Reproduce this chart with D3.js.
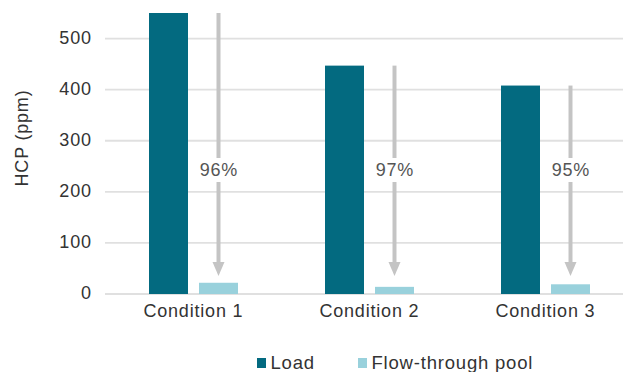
<!DOCTYPE html>
<html>
<head>
<meta charset="utf-8">
<script src="https://cdn.jsdelivr.net/npm/d3@7"></script>
<style>
  html, body { margin: 0; padding: 0; background: #fff; }
  svg { display: block; font-family: "Liberation Sans", Arial, Helvetica, sans-serif; }
  svg text { letter-spacing: 0.8px; }
</style>
</head>
<body>
<svg id="chart" width="623" height="372"></svg>
<script>
// HCP clearance per condition: load vs. flow-through pool
const categories = ["Condition 1", "Condition 2", "Condition 3"];
const seriesNames = ["Load", "Flow-through pool"];
const loadValues = [550, 447, 408];
const poolValues = [22, 14, 19];
const reductionLabels = ["96%", "97%", "95%"];
const yTicks = [0, 100, 200, 300, 400, 500];

const colors = { "Load": "#036a80", "Flow-through pool": "#99d1dc" };
const textColor = "#333";
const fontSize = 18;
const ls = 0.8; // letter spacing

const svg = d3.select("#chart");

const y = d3.scaleLinear().domain([0, 550]).range([294, 13]);
const x = d3.scaleBand().domain(categories).range([105, 633]).paddingInner(0).paddingOuter(0);
const xInner = d3.scaleBand().domain(seriesNames).range([44, 133]).paddingInner(0.22);

// gridlines
svg.append("g")
  .selectAll("line")
  .data(yTicks)
  .join("line")
  .attr("x1", 105).attr("x2", 623)
  .attr("y1", d => y(d)).attr("y2", d => y(d))
  .attr("stroke", "#e0e0e0").attr("stroke-width", 1.8);

// y axis labels
const yAxis = d3.axisLeft(y).tickValues(yTicks).tickSize(0).tickPadding(0);
svg.append("g")
  .attr("transform", `translate(${91 + ls},-1)`)
  .call(yAxis)
  .call(g => g.select(".domain").remove())
  .call(g => g.selectAll("text")
    .attr("font-size", fontSize).attr("fill", textColor)
    .attr("font-family", "'Liberation Sans', Arial, sans-serif"));

// y axis title
svg.append("text")
  .attr("transform", "translate(27.5,138) rotate(-90)")
  .attr("text-anchor", "middle")
  .attr("font-size", fontSize).attr("fill", textColor)
  .text("HCP (ppm)");

// bars
const rows = categories.map((c, i) => ({ cat: c, Load: loadValues[i], "Flow-through pool": poolValues[i], label: reductionLabels[i] }));

const groups = svg.append("g").selectAll("g")
  .data(rows)
  .join("g")
  .attr("transform", d => `translate(${x(d.cat)},0)`);

groups.selectAll("rect")
  .data(d => seriesNames.map(s => ({ s, v: d[s] })))
  .join("rect")
  .attr("x", d => xInner(d.s))
  .attr("width", xInner.bandwidth())
  .attr("y", d => y(d.v))
  .attr("height", d => y(0) - y(d.v))
  .attr("fill", d => colors[d.s]);

// reduction arrows: from the load level down to just above the pool bar
const arrowColor = "#c4c4c4";
const arrowEnd = 35; // ppm level where the arrow tips end
groups.each(function(d) {
  const g = d3.select(this);
  const ax = xInner("Flow-through pool") + xInner.bandwidth() / 2;
  const yTop = y(d.Load);
  const yTip = y(arrowEnd);
  const headH = 14, headW = 12;
  const labelY = 170;
  g.append("line")
    .attr("x1", ax).attr("x2", ax)
    .attr("y1", yTop).attr("y2", 158)
    .attr("stroke", arrowColor).attr("stroke-width", 4);
  g.append("line")
    .attr("x1", ax).attr("x2", ax)
    .attr("y1", 182).attr("y2", yTip - headH + 1)
    .attr("stroke", arrowColor).attr("stroke-width", 4);
  g.append("path")
    .attr("d", `M${ax - headW / 2},${yTip - headH} L${ax + headW / 2},${yTip - headH} L${ax},${yTip} Z`)
    .attr("fill", arrowColor);
  g.append("text")
    .attr("x", ax + ls / 2).attr("y", labelY)
    .attr("dy", "0.35em")
    .attr("text-anchor", "middle")
    .attr("font-size", fontSize).attr("fill", "#555")
    .text(d.label);
});

// category labels
svg.append("g").selectAll("text")
  .data(categories)
  .join("text")
  .attr("x", d => x(d) + x.bandwidth() / 2 + ls / 2)
  .attr("y", 317)
  .attr("text-anchor", "middle")
  .attr("font-size", fontSize).attr("fill", textColor)
  .text(d => d);

// legend
const legendItems = [{ name: "Load", x: 257 }, { name: "Flow-through pool", x: 358 }];
const lg = svg.append("g").selectAll("g").data(legendItems).join("g")
  .attr("transform", d => `translate(${d.x},0)`);
lg.append("rect")
  .attr("x", 0).attr("y", 358).attr("width", 9).attr("height", 10)
  .attr("fill", d => colors[d.name]);
lg.append("text")
  .attr("x", 13.5).attr("y", 369)
  .attr("font-size", 18.5).attr("fill", textColor)
  .text(d => d.name);
</script>
</body>
</html>
